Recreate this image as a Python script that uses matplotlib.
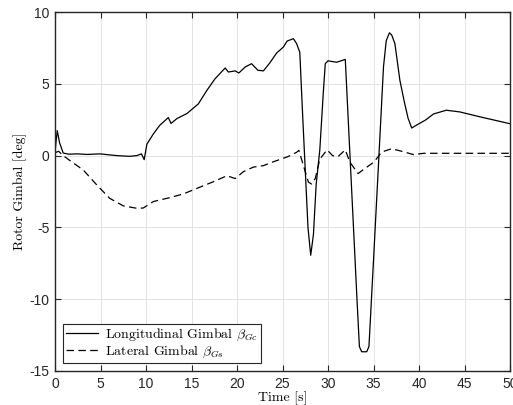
import matplotlib
matplotlib.use("Agg")
import matplotlib.pyplot as plt
import numpy as np

# longitudinal gimbal (solid)
t_lon = [0.0, 0.1, 0.25, 0.5, 0.9, 1.5, 2.5, 3.5, 4.95, 6.0, 6.8, 8.2, 9.0, 9.5, 9.8,
         10.1, 10.4, 10.8, 11.5, 12.45, 12.75, 13.4, 14.5, 15.75, 16.7, 17.6, 18.7,
         19.05, 19.8, 20.2, 20.9, 21.6, 22.3, 22.9, 23.6, 24.35, 25.1, 25.5, 25.6,
         26.2, 26.55, 26.9, 27.2, 27.5, 27.8, 28.1, 28.4, 28.7, 29.1, 29.5, 29.7,
         30.0, 30.95, 31.9, 32.3, 32.8, 33.2, 33.45, 33.7, 34.25, 34.5, 35.0, 35.5,
         36.1, 36.4, 36.75, 37.0, 37.35, 37.9, 38.35, 38.8, 39.2, 39.8, 40.7, 41.6,
         43.0, 44.5, 46.7, 50.0]
lon = [0.1, 0.9, 1.74, 0.9, 0.18, 0.1, 0.12, 0.08, 0.12, 0.05, 0.0, -0.05, 0.0, 0.12, -0.28,
       0.8, 1.1, 1.5, 2.1, 2.65, 2.24, 2.58, 2.93, 3.6, 4.55, 5.36, 6.1,
       5.82, 5.9, 5.75, 6.17, 6.4, 5.94, 5.9, 6.45, 7.14, 7.56, 7.97, 8.0,
       8.14, 7.8, 7.2, 3.0, -1.0, -5.0, -6.94, -5.5, -2.0, 0.4, 4.55, 6.4,
       6.6, 6.5, 6.7, 1.5, -5.0, -10.2, -13.3, -13.66, -13.66, -13.3, -7.3, -1.2,
       6.2, 8.0, 8.55, 8.4, 7.8, 5.24, 3.85, 2.6, 1.92, 2.15, 2.47, 2.9,
       3.16, 3.04, 2.7, 2.22]

# lateral gimbal (dashed)
t_lat = [0.0, 0.4, 0.9, 1.65, 3.1, 4.6, 6.0, 7.5, 9.0, 9.7, 10.8, 12.6, 14.1, 15.6,
         17.4, 18.9, 19.8, 20.7, 21.8, 22.9, 24.0, 25.6, 26.55, 26.8, 27.3, 27.85,
         28.2, 28.6, 29.1, 29.9, 30.5, 31.1, 31.9, 32.4, 33.3, 34.05, 35.05, 35.9,
         37.0, 38.1, 39.4, 40.5, 45.0, 50.0]
lat = [0.2, 0.3, 0.0, -0.35, -1.0, -2.05, -2.97, -3.5, -3.67, -3.65, -3.2, -2.93, -2.67, -2.28,
       -1.82, -1.4, -1.6, -1.12, -0.8, -0.7, -0.43, -0.07, 0.23, 0.37, -0.7, -1.85,
       -1.98, -1.6, -0.25, 0.4, 0.0, -0.07, 0.4, -0.45, -1.25, -0.9, -0.45, 0.25,
       0.48, 0.3, 0.07, 0.16, 0.16, 0.16]

plt.rcParams["mathtext.fontset"] = "cm"
plt.rcParams["axes.unicode_minus"] = False

fig = plt.figure(figsize=(5.13, 4.05), dpi=100)
ax = fig.add_axes([55 / 513, 1 - 371 / 405, 455 / 513, 359 / 405])

ax.plot(t_lon, lon, color="black", lw=0.9, label=r"Longitudinal Gimbal $\beta_{Gc}$")
ax.plot(t_lat, lat, color="black", lw=0.9, linestyle=(0, (6, 3.5)),
        label=r"Lateral Gimbal $\beta_{Gs}$")

ax.set_xlim(0, 50)
ax.set_ylim(-15, 10)
ax.set_xticks(np.arange(0, 51, 5))
ax.set_yticks(np.arange(-15, 11, 5))
ax.grid(True, color="#e3e3e3", lw=0.7)
ax.set_axisbelow(True)
ax.tick_params(direction="in", top=True, right=True, length=4, width=0.8,
               color="#262626", labelsize=10, labelcolor="#262626", pad=4)
for lab in ax.get_xticklabels() + ax.get_yticklabels():
    lab.set_fontfamily("Liberation Sans")
for s in ax.spines.values():
    s.set_color("#262626")
    s.set_linewidth(1.0)

ax.set_xlabel("Time [s]", fontfamily="cmr10", fontsize=10, labelpad=1)
ax.set_ylabel("Rotor Gimbal [deg]", fontfamily="cmr10", fontsize=10, labelpad=2)

leg = ax.legend(loc="lower left", prop={"family": "cmr10", "size": 10},
                fancybox=False, framealpha=1, edgecolor="#262626",
                handlelength=2.3, handletextpad=0.5, borderpad=0.2,
                labelspacing=0.05, borderaxespad=0.6)
leg.get_frame().set_linewidth(0.8)

fig.savefig("out.png", dpi=100)
